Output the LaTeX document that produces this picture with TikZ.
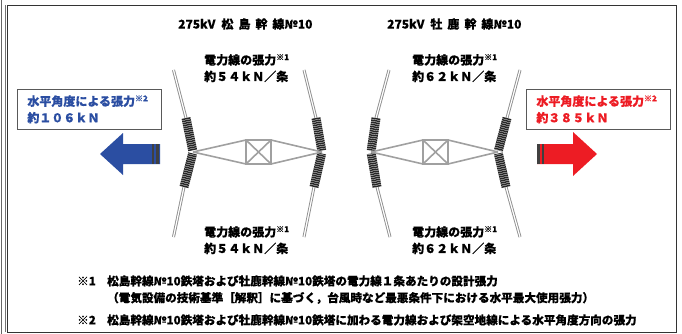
\documentclass[tikz,border=0pt]{standalone}
\usepackage{fontspec}
\setmainfont{Noto Sans CJK JP}[BoldFeatures={FakeBold=0.35}]
\usepackage{xcolor}
\definecolor{wiregray}{HTML}{8F8F8F}
\definecolor{forceblue}{HTML}{2B4EA2}
\definecolor{forcered}{HTML}{ED1C24}
\begin{document}
\begin{tikzpicture}[
        x=1pt, y=-1pt,
        every node/.style={font=\bfseries\fontsize{12}{16.5}\selectfont, inner sep=0pt},
        wire/.style={draw=wiregray, line width=0.9pt, double=white, double distance=1.2pt},
        coilwire/.style={draw=black!85, line width=9pt, dash pattern=on 1.5pt off 0.6pt, shorten >=1.5pt},
        truss/.style={draw=wiregray!85, line width=1.6pt},
        label/.style={anchor=north west, align=left},
        forcebox/.style={draw=black!65, line width=0.8pt, fill=white, anchor=north west,
            text width=124pt, inner xsep=10pt, minimum height=40pt, align=left},
        note/.style={anchor=west, font=\bfseries\fontsize{11.6}{14}\selectfont}
    ]
    \useasboundingbox (0,0) rectangle (682,334);

    % Frame
    \draw[black!60, line width=1pt] (1,0) -- (1,334);
    \draw[black!55, line width=0.8pt] (5,5) -- (5,332);
    \draw[black!80, line width=0.9pt] (7,5) rectangle (676,332);

    % Titles
    \node[anchor=west] (title1) at (178,24) {275kV\hspace{6pt}松\hspace{5pt}島\hspace{5pt}幹\hspace{5pt}線№10};
    \node[anchor=west] (title2) at (387,24) {275kV\hspace{6pt}牡\hspace{5pt}鹿\hspace{5pt}幹\hspace{5pt}線№10};

    % First tower
    \begin{scope}
        \coordinate (J1) at (193,152);
        \coordinate (J2) at (322,152);
        \coordinate (B1) at (246,140);
        \coordinate (B2) at (271,140);
        \coordinate (B3) at (271,164);
        \coordinate (B4) at (246,164);

        % Wires and insulators
        \coordinate (T1) at (173.5,70);
        \coordinate (C1) at (186,118);
        \coordinate (D1) at (184,187);
        \coordinate (E1) at (173.5,237);
        \coordinate (T2) at (304,70);
        \coordinate (C2) at (316,118);
        \coordinate (D2) at (314,187);
        \coordinate (E2) at (304,237);
        \draw[wire] (T1) -- (C1);
        \draw[wire] (E1) -- (D1);
        \draw[wire] (T2) -- (C2);
        \draw[wire] (E2) -- (D2);
        \draw[coilwire] (C1) -- (J1);
        \draw[coilwire] (D1) -- (J1);
        \draw[coilwire] (C2) -- (J2);
        \draw[coilwire] (D2) -- (J2);

        % Jumper frame
        \draw[truss] (B1) -- (B2) -- (B3) -- (B4) -- cycle;
        \draw[truss] (B1) -- (B3);
        \draw[truss] (B2) -- (B4);
        \draw[truss] (J1) -- (B1);
        \draw[truss] (J1) -- (B4);
        \draw[truss] (J2) -- (B2);
        \draw[truss] (J2) -- (B3);
    \end{scope}

    % Second tower
    \begin{scope}
        \coordinate (J3) at (371,152);
        \coordinate (J4) at (498,152);
        \coordinate (F1) at (423,140);
        \coordinate (F2) at (448,140);
        \coordinate (F3) at (448,164);
        \coordinate (F4) at (423,164);

        % Wires and insulators
        \coordinate (T3) at (389,70);
        \coordinate (C3) at (376,118);
        \coordinate (D3) at (377,187);
        \coordinate (E3) at (390,237);
        \coordinate (T4) at (520,70);
        \coordinate (C4) at (507,118);
        \coordinate (D4) at (506,187);
        \coordinate (E4) at (520,237);
        \draw[wire] (T3) -- (C3);
        \draw[wire] (E3) -- (D3);
        \draw[wire] (T4) -- (C4);
        \draw[wire] (E4) -- (D4);
        \draw[coilwire] (C3) -- (J3);
        \draw[coilwire] (D3) -- (J3);
        \draw[coilwire] (C4) -- (J4);
        \draw[coilwire] (D4) -- (J4);

        % Jumper frame
        \draw[truss] (F1) -- (F2) -- (F3) -- (F4) -- cycle;
        \draw[truss] (F1) -- (F3);
        \draw[truss] (F2) -- (F4);
        \draw[truss] (J3) -- (F1);
        \draw[truss] (J3) -- (F4);
        \draw[truss] (J4) -- (F2);
        \draw[truss] (J4) -- (F3);
    \end{scope}

    % Tension labels
    \node[label] (upper1) at (204,54) {電力線の張力\textsuperscript{※1}\\約５４ｋＮ／条};
    \node[label] (lower1) at (204,226) {電力線の張力\textsuperscript{※1}\\約５４ｋＮ／条};
    \node[label] (upper2) at (412,54) {電力線の張力\textsuperscript{※1}\\約６２ｋＮ／条};
    \node[label] (lower2) at (412,226) {電力線の張力\textsuperscript{※1}\\約６２ｋＮ／条};

    % Force boxes
    \node[forcebox, text=forceblue] (box1) at (17,89) {水平角度による張力\textsuperscript{※2}\\約１０６ｋＮ};
    \node[forcebox, text=forcered] (box2) at (526,89) {水平角度による張力\textsuperscript{※2}\\約３８５ｋＮ};

    % Force arrows
    \fill[forceblue] (100,154) -- (123,133) -- (123,144) -- (160,144) -- (160,164) -- (123,164) -- (123,175) -- cycle;
    \fill[black!75] (152,144) rectangle (154,164);
    \fill[black!75] (156,144) rectangle (159,164);
    \fill[forcered] (597,154) -- (573,132) -- (573,144) -- (537,144) -- (537,164) -- (573,164) -- (573,176) -- cycle;
    \fill[black!75] (537,144) rectangle (540,164);
    \fill[black!75] (542,144) rectangle (544,164);

    % Notes
    \node[note] (mark1) at (77,281) {※1};
    \node[note] (note1) at (107,281) {松島幹線№10鉄塔および牡鹿幹線№10鉄塔の電力線１条あたりの設計張力};
    \node[note] (note1b) at (107,298) {（電気設備の技術基準［解釈］に基づく，台風時など最悪条件下における水平最大使用張力）};
    \node[note] (mark2) at (77,320) {※2};
    \node[note] (note2) at (107,320) {松島幹線№10鉄塔および牡鹿幹線№10鉄塔に加わる電力線および架空地線による水平角度方向の張力};
\end{tikzpicture}
\end{document}
